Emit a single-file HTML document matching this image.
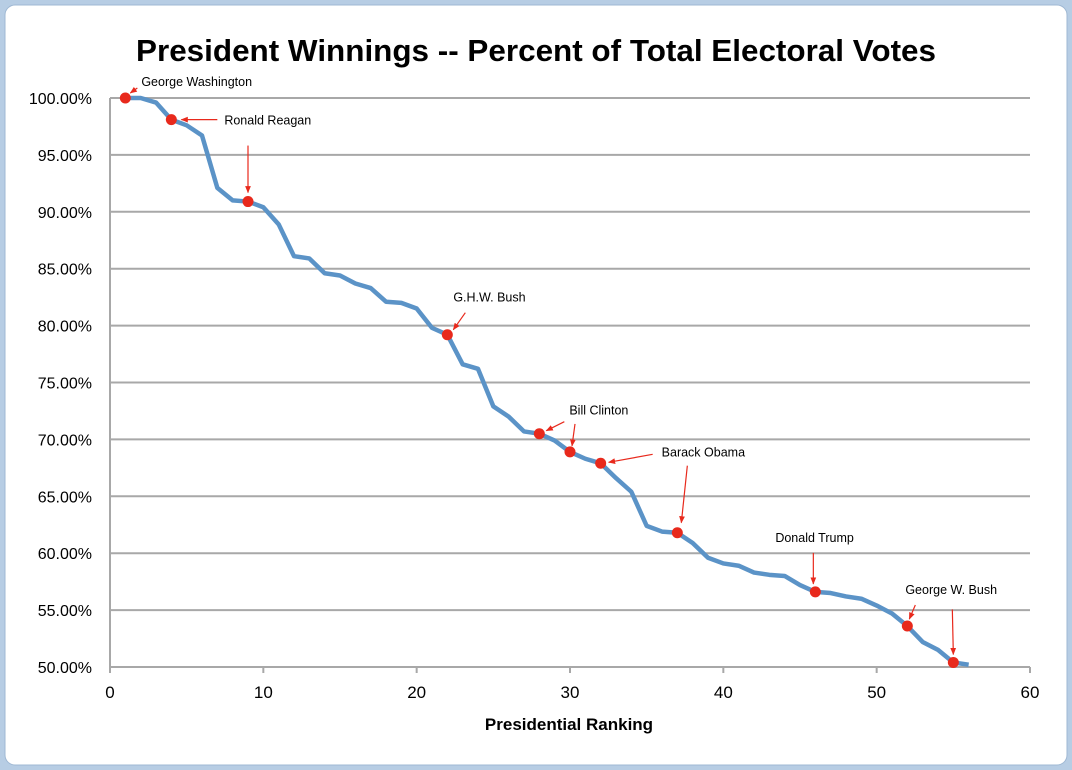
<!DOCTYPE html>
<html><head><meta charset="utf-8"><style>
body{margin:0;background:#c9d9ea;}
svg{display:block;font-family:"Liberation Sans",sans-serif;}
</style></head><body>
<svg width="1072" height="770" viewBox="0 0 1072 770">
<defs><marker id="ah" viewBox="0 0 10 10" refX="9" refY="5" markerWidth="6" markerHeight="6" orient="auto"><path d="M0,1 L10,5 L0,9 z" fill="#e8291c"/></marker></defs>
<rect x="0" y="0" width="1072" height="770" fill="#b7cde4"/>
<rect x="5" y="5" width="1062" height="760" rx="10" fill="#fff" stroke="#9fb8d3"/>
<text x="536" y="61" text-anchor="middle" font-size="31" font-weight="bold" fill="#000" textLength="800" lengthAdjust="spacingAndGlyphs">President Winnings -- Percent of Total Electoral Votes</text>
<g id="grid"></g><g id="axes"></g><g id="series"></g><g id="annot"></g>
<text x="569" y="730" text-anchor="middle" font-size="17" font-weight="bold">Presidential Ranking</text>
</svg>
<script>
const values=[100,100,99.6,98.1,97.6,96.7,92.1,91.0,90.9,90.4,88.9,86.1,85.9,84.6,84.4,83.7,83.3,82.1,82.0,81.5,79.8,79.2,76.6,76.2,72.9,72.0,70.7,70.5,69.9,68.9,68.3,67.9,66.6,65.4,62.4,61.9,61.8,60.9,59.6,59.1,58.9,58.3,58.1,58.0,57.2,56.6,56.5,56.2,56.0,55.4,54.7,53.6,52.2,51.5,50.4,50.2];
const yTicks=[50,55,60,65,70,75,80,85,90,95,100];
const xTicks=[0,10,20,30,40,50,60];
const annRank=[1,4,9,22,28,30,32,37,46,52,55];
const annNames=["George Washington","Ronald Reagan","","G.H.W. Bush","Bill Clinton","","Barack Obama","","Donald Trump","George W. Bush",""];
const NS="http://www.w3.org/2000/svg";
const X=v=>110+v*(1030-110)/60;
const Y=v=>667-(v-50)*(667-98)/50;
function mk(t,a,p){const e=document.createElementNS(NS,t);for(const k in a)e.setAttribute(k,a[k]);document.getElementById(p).appendChild(e);return e;}
yTicks.forEach(t=>{
 const l=mk('line',{x1:110,x2:1030,y1:Y(t),y2:Y(t),stroke:'#a8a8a8','stroke-width':2},'grid');
 
 
 const tx=mk('text',{x:92,y:Y(t)+6,'text-anchor':'end','font-size':16},'axes');tx.textContent=t.toFixed(2)+'%';
 
 
});
const ya=mk('line',{x1:110,x2:110,y1:98,y2:667,stroke:'#a8a8a8','stroke-width':2},'axes');


xTicks.forEach(t=>{
 const k=mk('line',{x1:X(t),x2:X(t),y1:667,y2:673,stroke:'#a8a8a8','stroke-width':2},'axes');
 
 
 const tx=mk('text',{x:X(t),y:698,'text-anchor':'middle','font-size':17},'axes');tx.textContent=t;
 
 
});
const pl=mk('polyline',{points:values.map((v,i)=>X(i+1)+','+Y(v)).join(' '),fill:'none',stroke:'#5b93c7','stroke-width':4.5,'stroke-linejoin':'round'},'series');


const lab=[[16,-12],[53,5],[0,0],[6,-33],[30,-19],[0,0],[61,-7],[0,0],[-40,-50],[-2,-32],[0,0]];
const arr=[[12,-10,5,-5],[46,0,10,0],[0,-56,0,-9],[18,-22,6,-5],[25,-12,7,-3],[5,-28,2,-6],[52,-9,8,-1],[10,-67,4,-10],[-2,-39,-2,-8],[8,-21,2,-7],[-1,-53,0,-8]];
annRank.forEach((r,i)=>{
 const cx=X(r),cy=Y(values[r-1]);
 const a=arr[i];
 const ln=mk('line',{x1:cx+a[0],y1:cy+a[1],x2:cx+a[2],y2:cy+a[3],stroke:'#e8291c','stroke-width':1.2,'marker-end':'url(#ah)'},'annot');
 
 
 const d=mk('circle',{cx:cx,cy:cy,r:5.5,fill:'#e8291c'},'annot');
 
 
 if(annNames[i]){
  const L=lab[i];
  const t=mk('text',{x:cx+L[0],y:cy+L[1],'font-size':12.5},'annot');t.textContent=annNames[i];
  
  
 }
});
</script>
</body></html>
